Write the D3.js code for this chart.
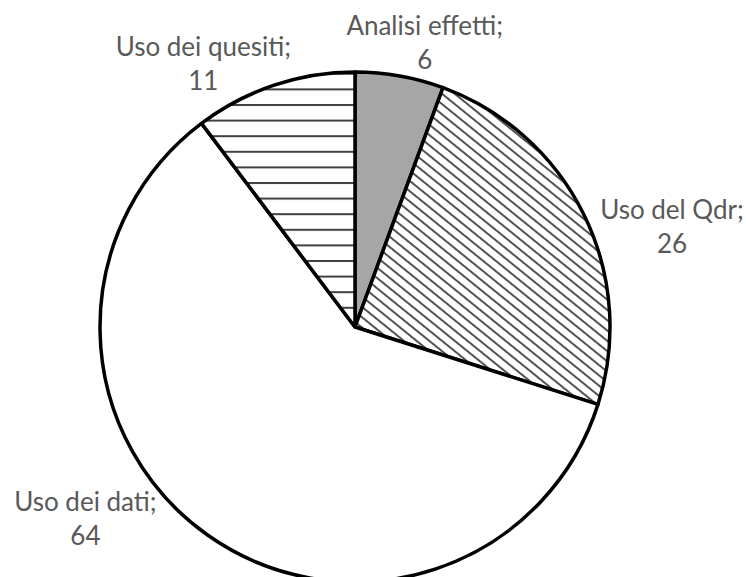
<!DOCTYPE html>
<html>
<head>
<meta charset="utf-8">
<script src="https://cdn.jsdelivr.net/npm/d3@7"></script>
<style>
  body { margin: 0; background: #fff; }
  text { font-family: Lato, "Open Sans", sans-serif; fill: #595959; }
</style>
</head>
<body>
<script>
var w = 746;
var h = 577;
var radius = 255;
var center = {"x": 355, "y": 327};

// data
var categories = ["Analisi effetti", "Uso del Qdr", "Uso dei dati", "Uso dei quesiti"];
var values = [6, 26, 64, 11];

// styles / label nudges (per slice)
var fills = ["#a6a6a6", "url(#diag)", "#ffffff", "url(#horiz)"];
var labelNudge = [[18, 15], [52, 39], [-99, -40], [-58, 26]];

var svg = d3.select("body")
            .append("svg")
            .attr("width", w)
            .attr("height", h);

var defs = svg.append("defs");

var diagGap = 8;
var diag = defs.append("pattern")
               .attr("id", "diag")
               .attr("patternUnits", "userSpaceOnUse")
               .attr("width", 20)
               .attr("height", diagGap)
               .attr("patternTransform", "rotate(39)");
diag.append("rect")
    .attr("width", 20).attr("height", diagGap)
    .attr("fill", "#fff");
diag.append("line")
    .attr("x1", 0).attr("x2", 20)
    .attr("y1", diagGap / 2).attr("y2", diagGap / 2)
    .attr("stroke", "#4a4a4a")
    .attr("stroke-width", 1.9);

var horiz = defs.append("pattern")
                .attr("id", "horiz")
                .attr("patternUnits", "userSpaceOnUse")
                .attr("y", 90 - 1)
                .attr("width", 20)
                .attr("height", 15.6);
horiz.append("rect")
     .attr("width", 20).attr("height", 15.6)
     .attr("fill", "#fff");
horiz.append("line")
     .attr("x1", 0).attr("x2", 20)
     .attr("y1", 1).attr("y2", 1)
     .attr("stroke", "#404040")
     .attr("stroke-width", 2);

var pie = d3.pie()
            .sort(null)
            .value(function(d){ return d; });

var arcs = pie(values);

var arc = d3.arc()
            .innerRadius(0)
            .outerRadius(radius);

var g = svg.append("g")
           .attr("transform", "translate(" + center.x + "," + center.y + ")");

g.selectAll("path.slice")
 .data(arcs)
 .enter()
 .append("path")
 .classed("slice", true)
 .attr("d", arc)
 .attr("fill", function(d, i){ return fills[i]; })
 .attr("stroke", "#000")
 .attr("stroke-width", 3.5)
 .attr("stroke-linejoin", "round");

var labels = g.selectAll("g.label")
              .data(arcs)
              .enter()
              .append("g")
              .classed("label", true)
              .attr("transform", function(d, i){
                  var a = (d.startAngle + d.endAngle) / 2;
                  var r = radius + 40;
                  var x = Math.sin(a) * r + labelNudge[i][0];
                  var y = -Math.cos(a) * r + labelNudge[i][1];
                  return "translate(" + x + "," + y + ")";
              });

labels.append("text")
      .attr("text-anchor", "middle")
      .attr("y", -17)
      .style("font-size", "26px")
      .text(function(d, i){ return categories[i] + ";"; });

labels.append("text")
      .attr("text-anchor", "middle")
      .attr("y", 17)
      .style("font-size", "26px")
      .text(function(d){ return d.value; });
</script>
</body>
</html>
